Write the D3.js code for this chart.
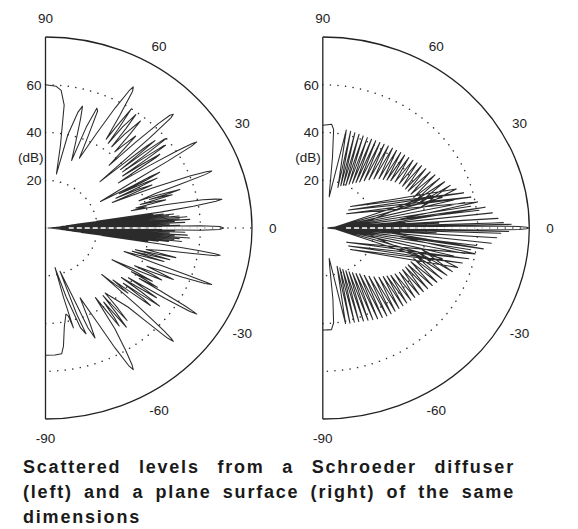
<!DOCTYPE html>
<html><head><meta charset="utf-8">
<script src="https://cdn.jsdelivr.net/npm/d3@7"></script>
<style>body{margin:0;background:#fff}svg{display:block}</style>
</head><body>
<svg id="c" width="578" height="529"></svg>
<script>
// ---- data (angle in degrees, level in dB) ----
const angleTicks = [90, 60, 30, 0, -30, -60, -90];
const ringTicks = [20, 40, 60];
const rMax = 80;

const diffuserUpper = [
 [90,60],[86,59.5],[84,58],[82,52],[80.5,35],[79.4,23],
 [77.5,40],[75.5,50],[74.3,53],[73.5,48],[72,38],[70.3,30],
 [69.5,45],[68.4,54],[67.6,53],[66.8,42],[65.8,32],
 [63.5,44],[61.8,57],[60.6,66],[60.1,68.2],[59.5,66.5],[58.6,55],[57.7,44],
 [57,52],[56.3,60],[55.8,50],[55.6,43],[54.8,52],[53.6,59],[53.2,52],[53,42.6],[52,50],[50.6,58],[50.2,51],[49.9,41.7],[49,46],[47.8,52],[47.4,45],[46.8,36],
 [45.8,50],[45,62],[44.4,67.5],[43.9,68.7],[43.5,67],[43.1,55],[42.6,28.7],
 [41.8,40],[41.2,52],[40.8,56],[40.5,48],[40.1,38],[39.6,50],[39,59],[38.7,60],[38.4,50],[38.2,38],[37.6,48],[37,57],[36.7,58],[36.4,49],[36.1,37],[35.5,46],[34.9,54],[34.6,52],[34.3,42],[33.8,34],
 [33,48],[32.4,60],[31.9,67],[31.6,68.8],[31.2,66],[30.6,55],[29.8,40],[27.5,24],
 [27.6,38],[28,46],[27.8,50],[27.2,44],[26.6,32],[26.2,42],[25.8,48],[25.3,40],[24.6,30],[24.2,40],[23.6,45],[23.1,36],[22.4,28],
 [22,45],[21.3,60],[20.7,67],[20.3,68.7],[19.9,66],[19.3,55],[18.7,45],[17.5,38],
 [17.6,45],[17.2,54.5],[16.8,50],[16.5,42],[16.2,48],[15.8,51],[15.4,44],[15,38],[14.6,45],[14.2,48],[13.8,42],[13.4,36],[12.8,40],[12.3,34],
 [11.8,48],[11,62],[10.4,67],[10,69.4],[9.6,67],[9,58],[8.5,45],
 [8.2,20],[7.9,42],[7.6,12],[7.3,46],[7,10],[6.7,50],[6.4,8],[6.1,48],[5.8,6],[5.5,52],[5.2,5],[4.9,55],[4.6,4],[4.3,52],[4,3],[3.7,56],[3.4,3],[3.1,50],[2.8,2],[2.5,54],[2.2,2],[1.9,48],[1.6,2],[1.3,52],[1,1.5],[0.7,45],[0.4,1],
 [0.9,45],[0.9,60],[0.5,67.5],[0,69]
];
const diffuserLower = [
 [0,69],[-0.5,67.5],[-0.9,60],[-0.9,45],[-0.4,1],
 [-0.7,45],[-1,1.5],[-1.3,50],[-1.6,2],[-1.9,54],[-2.2,2],[-2.5,48],[-2.8,2],[-3.1,55],[-3.4,3],[-3.7,50],[-4,3],[-4.3,56],[-4.6,4],[-4.9,52],[-5.2,5],[-5.5,50],[-5.8,6],[-6.1,53],[-6.4,8],[-6.7,48],[-7,10],[-7.3,44],[-7.6,14],[-7.9,40],[-8.2,22],
 [-8.6,45],[-9,60],[-9.3,66.5],[-9.6,68.6],[-10,67],[-10.6,58],[-11.5,48],[-13,40],
 [-13.4,46],[-13.8,52],[-14.2,45],[-14.6,36],[-15,44],[-15.4,50],[-15.8,42],[-16.2,35],[-16.6,42],[-17,48],[-17.4,40],[-17.9,32],
 [-19.2,45],[-19.7,58],[-20,66],[-20.2,68.6],[-20.6,66],[-21.2,57],[-22.2,42.4],[-22.8,48],[-23.5,54],[-24,46],[-24.6,38],[-25.2,46],[-25.8,50],[-26.3,42],[-27.3,29],
 [-27.8,40],[-28.3,47],[-28.8,38],[-29.3,45],[-29.8,50],[-30.2,42],
 [-30.6,52],[-31.1,63],[-31.4,67],[-31.6,68.8],[-32,66],[-32.5,55],[-33,38.3],
 [-33.5,45],[-34.2,52],[-34.7,44],[-35.2,36],[-35.8,46],[-36.5,55],[-37,46],[-37.5,38],[-38,48],[-38.6,52],[-39.2,42],[-39.8,34],[-40.5,42],[-41.2,36],[-41.8,29.2],
 [-42.5,50],[-43.2,63],[-43.5,67],[-43.8,68.6],[-44.3,66],[-45,56],[-46,46],[-49.7,35.7],
 [-50.2,44],[-50.8,50],[-51.3,42],[-51.8,36],[-52.4,45],[-53,52],[-53.5,44],[-54,38.4],[-54.6,46],[-55.2,50],[-55.8,42],[-56.4,35],
 [-57.5,50],[-58.8,60],[-59.7,66.5],[-60.2,68.4],[-60.8,66],[-61.8,57],[-63,45],[-65.4,32.2],
 [-66.5,42],[-67.4,49.9],[-68.5,45],[-70,30],[-72.8,19],[-71.5,38],[-70.5,47],[-72,44],[-74.5,30],[-77.5,17],[-76.5,30],[-75.5,43.2],[-76.5,38],[-77.6,36.9],[-80,42],[-82,50],[-83.2,53],[-86,53.3],[-90,53.3]
];
const planeUpper = [
 [90,43],[87.5,43.3],[85.5,43.6],[84.2,41.5],[82.8,30],[80.5,16],[79.2,13.3],
 [77.5,42],[71,18],[75.1,41.9],[68.5,19],[72.7,41.8],[66,19.5],[70.3,41.7],[63.5,20],
 [67.9,41.6],[61,21],[65.5,41.6],[58.5,22],[63.1,41.7],[56,23],[60.7,41.9],[53.5,24],
 [58.3,42.1],[51,25.5],[55.9,42.4],[48.5,27],[53.5,42.7],[46,28.5],[51.1,43],[43.5,30],
 [48.7,43.3],[41,31],[46.3,43.7],[39,32],[43.9,44],[37,33],[41.5,44.5],[34.5,34],
 [39.1,45],[32,35],[36.7,45.6],[29.5,35.5],[34.3,46.3],[27,36],[31.9,47],[25,36.5],
 [29.5,47.8],[22.5,37],[27.1,48.8],[20,37.5],[24.7,49.8],[18,38],[22.3,51],[15.5,38.5],
 [19.9,52.5],[13,39],[17.5,54.2],[40,14],[15.1,56.5],[37,12.5],[12.7,58.8],[33,11],
 [10.3,61],[7,30],[7.9,63.5],[4,24],[5.5,66],[3,18],[3.4,68],[2,12],
 [18,44],[1.2,4],[15.5,48],[1.6,4],[13,52],[2,5],[11,56],[2.4,5],[9,58],[2.8,5],[7,61],[3.2,4],
 [4.8,28],[4.2,3],[3.6,32],[3,2.5],[2.6,45],[2.2,2],[1.8,70],[1.5,2],[1.2,73],[1,2],
 [0.8,60],[0.5,76],[0.25,79],[0,79.6]
];
const planeLower = [
 [0,79.6],[-0.25,79],[-0.5,76],[-0.8,60],[-1,2],[-1.2,72],[-1.5,2],[-1.8,69],[-2.2,2],[-2.6,44],[-3,2.5],[-3.6,30],[-4.2,3],[-4.8,26],
 [-3.2,4],[-7,60],[-2.8,5],[-9,58],[-2.4,5],[-11,56],[-2,5],[-13,52],[-1.6,4],[-15.5,48],[-1.2,4],[-18,44],
 [-2,12],[-3.5,67.5],[-3,18],[-5.6,65.6],[-4,24],[-8,62.8],[-7,30],[-10.4,60],
 [-33,11],[-12.8,58],[-37,12.5],[-15.2,56],[-40,14],[-17.6,54.8],[-13,39],[-20,53.4],
 [-15.5,38.5],[-22.4,52],[-18,38],[-24.8,50.8],[-20,37.5],[-27.2,49.7],[-22.5,37],[-29.6,48.8],
 [-25,36.5],[-32,47.9],[-27,36],[-34.4,47.2],[-29.5,35.5],[-36.8,46.6],[-32,35],[-39.2,46],
 [-34.5,34],[-41.6,45.6],[-37,33],[-44,45.2],[-39,32],[-46.4,45],[-41,31],[-48.8,44.8],
 [-43.5,30],[-51.2,44.7],[-46,28.5],[-53.6,44.6],[-48.5,27],[-56,44.4],[-51,25.5],[-58.4,44],
 [-53.5,24],[-60.8,43.5],[-56,23],[-63.2,43],[-58.5,22],[-65.6,42.4],[-61,21],[-68,42],
 [-63.5,20],[-70.4,41.6],[-66,19],[-72.8,41.3],[-68.5,18],[-75.2,41.2],[-71,17],[-77.6,41],
 [-79,13],[-80.5,16],[-82.5,30],[-84,40],[-85.5,42.7],[-88,42.7],[-90,42.7]
];
const captionLines = [
 "Scattered levels from a Schroeder diffuser",
 "(left) and a plane surface (right) of the same",
 "dimensions"
];

// ---- drawing ----
const svg = d3.select('#c');
const rx = d3.scaleLinear().domain([0, rMax]).range([0, 206.5]);
const ry = d3.scaleLinear().domain([0, rMax]).range([0, 191]);
const rad = d => d * Math.PI / 180;
const labelFont = '"Liberation Sans", Arial, Helvetica, sans-serif';

function drawPolar(cx, cy, upper, lower, lobeEnd) {
  const g = svg.append('g');
  const px = (a, r) => cx + rx(r) * Math.cos(rad(a));
  const py = (a, r) => cy - ry(r) * Math.sin(rad(a));
  const arc = r => `M${cx},${cy - ry(r)} A${rx(r)},${ry(r)} 0 0 1 ${cx},${cy + ry(r)}`;

  g.selectAll('path.ring').data(ringTicks).join('path')
    .attr('class', 'ring').attr('d', arc).attr('fill', 'none')
    .attr('stroke', '#333').attr('stroke-width', 1.5)
    .attr('stroke-linecap', 'round').attr('stroke-dasharray', '0.1,7.5');
  g.append('line').attr('x1', cx).attr('y1', cy).attr('x2', px(0, rMax)).attr('y2', cy)
    .attr('stroke', '#333').attr('stroke-width', 1.5)
    .attr('stroke-linecap', 'round').attr('stroke-dasharray', '0.1,7.5');

  const line = d3.line().x(d => px(d[0], d[1])).y(d => py(d[0], d[1]));
  g.append('path').attr('d', line(upper.concat(lower.slice(1))))
    .attr('fill', 'none').attr('stroke', '#2b2b2b').attr('stroke-width', 1.05)
    .attr('stroke-linejoin', 'round');

  g.append('line').attr('x1', px(0, 9)).attr('y1', cy).attr('x2', px(0, lobeEnd)).attr('y2', cy)
    .attr('stroke', '#fff').attr('stroke-width', 1.3).attr('stroke-dasharray', '5,3');

  g.append('path').attr('d', arc(rMax)).attr('fill', 'none')
    .attr('stroke', '#222').attr('stroke-width', 1.3);
  g.append('line').attr('x1', cx).attr('y1', cy - ry(rMax)).attr('x2', cx).attr('y2', cy + ry(rMax))
    .attr('stroke', '#222').attr('stroke-width', 1.3);

  g.selectAll('text.ang').data(angleTicks).join('text')
    .attr('class', 'ang')
    .attr('x', d => px(d, rMax * 1.1)).attr('y', d => py(d, rMax * 1.1))
    .attr('dy', '0.36em').attr('text-anchor', 'middle')
    .attr('font-family', labelFont).attr('font-size', 13.5).attr('fill', '#222')
    .text(d => d);
  g.selectAll('text.rl').data(ringTicks).join('text')
    .attr('class', 'rl')
    .attr('x', cx - 4).attr('y', d => cy - ry(d))
    .attr('dy', '0.36em').attr('text-anchor', 'end')
    .attr('font-family', labelFont).attr('font-size', 13.5).attr('fill', '#222')
    .text(d => d);
  g.append('text').attr('x', cx - 2).attr('y', cy - ry(30) + 1)
    .attr('dy', '0.36em').attr('text-anchor', 'end')
    .attr('font-family', labelFont).attr('font-size', 13.5).attr('fill', '#222')
    .text('(dB)');
}

drawPolar(45.5, 228, diffuserUpper, diffuserLower, 66);
drawPolar(322.8, 228, planeUpper, planeLower, 77);

const capX = 23, capRight = 515;
captionLines.forEach((t, i) => {
  const el = svg.append('text')
    .attr('x', capX).attr('y', 473 + i * 25)
    .attr('font-family', labelFont).attr('font-weight', 'bold')
    .attr('font-size', 18).attr('letter-spacing', 1.8).attr('fill', '#1a1a1a')
    .text(t);
  if (i < captionLines.length - 1) {
    const len = el.node().getComputedTextLength();
    const spaces = t.split(' ').length - 1;
    el.attr('word-spacing', (capRight - capX - len) / spaces);
  }
});
</script>
</body></html>
